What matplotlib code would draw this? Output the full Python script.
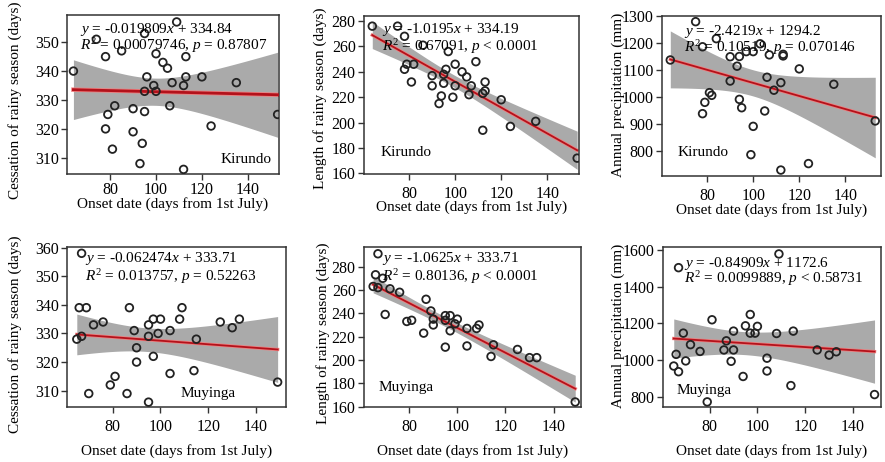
import numpy as np
import matplotlib
matplotlib.use('Agg')
import matplotlib.pyplot as plt

plt.rcParams['font.family'] = ['Liberation Serif', 'DejaVu Serif']
plt.rcParams['mathtext.fontset'] = 'custom'
plt.rcParams['mathtext.rm'] = 'Liberation Serif'
plt.rcParams['mathtext.it'] = 'Liberation Serif:italic'

# Kirundo - onset vs cessation
kir_onset_c = [64, 74, 78, 85, 95, 109, 100, 113, 103, 105, 96, 113, 120, 107, 99, 112,
               95, 100, 82, 90, 95, 106, 124, 90, 81, 94, 93, 112, 79, 78, 135, 153]
kir_cess = [340, 351, 345, 347, 353, 357, 346, 345, 343, 341, 338, 338, 338, 336, 335, 335,
            333, 333, 328, 327, 326, 328, 321, 319, 313, 315, 308, 306, 325, 320, 336, 325]

# Kirundo - onset vs length
kir_onset_l = [64, 75, 78, 78, 79, 82, 81, 86, 97, 90, 90, 96, 95, 95, 94, 93,
               100, 100, 99, 103, 105, 107, 106, 109, 113, 113, 112, 112, 120, 124, 135, 153]
kir_len = [276, 276, 268, 242, 246, 246, 232, 261, 256, 237, 229, 242, 238, 231, 221, 215,
           246, 229, 220, 240, 236, 229, 222, 248, 232, 225, 223, 194, 218, 197, 201, 172]

# Kirundo - onset vs annual precipitation
kir_onset_p = [64, 75, 78, 84, 78, 79, 81, 82, 90, 90, 93, 94, 94, 95, 97, 100,
               100, 99, 103, 105, 106, 107, 109, 112, 112, 113, 113, 120, 124, 135, 153]
kir_prcp = [1137, 1279, 1186, 1216, 938, 980, 1016, 1006, 1149, 1059, 1114, 1150, 991, 960, 1168, 891,
            1168, 786, 1197, 948, 1073, 1156, 1025, 1053, 729, 1152, 1158, 1104, 753, 1047, 911]

# Muyinga - onset vs cessation / length
muy_onset = [67, 66, 69, 87, 72, 76, 65, 67, 89, 95, 97, 100, 95, 99, 104, 108,
             90, 90, 97, 104, 81, 79, 70, 86, 95, 109, 115, 125, 130, 133, 114, 149]
muy_cess = [358, 339, 339, 339, 333, 334, 328, 329, 331, 333, 335, 335, 329, 330, 331, 335,
            325, 320, 322, 316, 315, 312, 309, 309, 306, 339, 328, 334, 332, 335, 317, 313]
muy_len = [291, 273, 270, 252, 261, 258, 263, 262, 242, 238, 238, 235, 234, 231, 227, 227,
           235, 230, 225, 212, 234, 233, 239, 223, 211, 230, 213, 209, 202, 202, 203, 164]

# Muyinga - onset vs annual precipitation
muy_onset_p = [67, 81, 69, 97, 95, 97, 99, 100, 90, 72, 76, 66, 65, 67, 70, 86,
               90, 87, 89, 94, 79, 104, 104, 109, 108, 115, 114, 125, 130, 133, 149]
muy_prcp = [1505, 1220, 1147, 1249, 1187, 1147, 1147, 1184, 1158, 1084, 1047, 1031, 967, 936, 995, 1055,
            1055, 1105, 993, 910, 771, 1010, 940, 1580, 1145, 1158, 860, 1055, 1027, 1045, 811]

# fitted equations as printed on the chart
slopes = [-0.019809, -1.0195, -2.4219, -0.062474, -1.0625, -0.84909]
intercepts = [334.84, 334.19, 1294.2, 333.71, 333.71, 1172.6]
eq_text = ['$y$ = -0.019809$x$ + 334.84', '$y$ = -1.0195$x$ + 334.19', '$y$ = -2.4219$x$ + 1294.2',
           '$y$ = -0.062474$x$ + 333.71', '$y$ = -1.0625$x$ + 333.71', '$y$ = -0.84909$x$ + 1172.6']
r2_text = ['$R^2$ = 0.00079746, $p$ = 0.87807', '$R^2$ = 0.67091, $p$ < 0.0001',
           '$R^2$ = 0.10519, $p$ = 0.070146', '$R^2$ = 0.013757, $p$ = 0.52263',
           '$R^2$ = 0.80136, $p$ < 0.0001', '$R^2$ = 0.0099889, $p$ < 0.58731']

xs = [kir_onset_c, kir_onset_l, kir_onset_p, muy_onset, muy_onset, muy_onset_p]
ys = [kir_cess, kir_len, kir_prcp, muy_cess, muy_len, muy_prcp]
stations = ['Kirundo', 'Kirundo', 'Kirundo', 'Muyinga', 'Muyinga', 'Muyinga']
ylabels = ['Cessation of rainy season (days)', 'Length of rainy season (days)', 'Annual precipitation (mm)'] * 2

# axes boxes in pixels (left, top, right, bottom) on the 885x462 canvas
W, H = 885, 462
boxes = [(67, 15, 279, 174), (364, 16, 579, 174), (662, 16, 881, 176),
         (67, 247, 286, 407), (364, 247, 581, 407), (663, 247, 881, 407)]
xlims = [(61.2, 153.6), (60.4, 153.8), (60.4, 155.5), (60.9, 152.5), (61.2, 151.4), (60.5, 151.7)]
ylims = [(304.4, 359.4), (159.5, 284), (707, 1300), (304.3, 360.2), (159.7, 296.8), (743, 1618)]
yticks = [range(310, 351, 10), range(160, 281, 20), range(800, 1301, 100),
          range(310, 361, 10), range(160, 281, 20), range(800, 1601, 200)]
# label positions in axes fraction
ylab_xy = [(-0.245, 0.465), (-0.205, 0.48), (-0.20, 0.505), (-0.237, 0.452), (-0.19, 0.46), (-0.206, 0.506)]
xlab_y = [-0.19, -0.21, -0.21, -0.275, -0.275, -0.275]
xtick_pad = [1.5, 4, 4, 4, 4, 4]
# text anchors in axes fraction: equation, R2 line, station (x, y, ha)
eq_pos = [(0.063, 0.906, 0.805), (0.082, 0.916, 0.809), (0.099, 0.906, 0.80),
          (0.084, 0.927, 0.818), (0.082, 0.931, 0.8125), (0.098, 0.898, 0.804)]
st_pos = [(0.966, 0.09, 'right'), (0.078, 0.134, 'left'), (0.072, 0.148, 'left'),
          (0.768, 0.086, 'right'), (0.065, 0.125, 'left'), (0.06, 0.104, 'left')]

fig = plt.figure(figsize=(W / 100, H / 100), dpi=100)

for i in range(6):
    l, t, r, b = boxes[i]
    ax = fig.add_axes([l / W, 1 - b / H, (r - l) / W, (b - t) / H])
    x = np.array(xs[i], dtype=float)
    y = np.array(ys[i], dtype=float)

    # regression line and 95% confidence band
    xx = np.linspace(x.min(), x.max(), 200)
    yy = slopes[i] * xx + intercepts[i]
    n = len(x)
    resid = y - (slopes[i] * x + intercepts[i])
    s = np.sqrt(np.sum(resid ** 2) / (n - 2))
    se = s * np.sqrt(1 / n + (xx - x.mean()) ** 2 / np.sum((x - x.mean()) ** 2))
    ax.fill_between(xx, yy - 2.04 * se, yy + 2.04 * se, color='#aaaaaa', lw=0, zorder=1)
    ax.plot(xx, yy, color='#ee8080', lw=3.2 if i == 0 else 2.4, zorder=2)
    ax.plot(xx, yy, color='#b3121b', lw=2.0 if i == 0 else 1.3, zorder=3)

    ax.scatter(x, y, s=30, facecolors='none', edgecolors='#222222', linewidths=1.3, zorder=4)

    ax.set_xlim(*xlims[i])
    ax.set_ylim(*ylims[i])
    ax.set_xticks([80, 100, 120, 140])
    ax.set_yticks(list(yticks[i]))
    ax.tick_params(direction='out', length=4.5, width=1, labelsize=11.5, color='#333333', pad=1.5)
    ax.tick_params(axis='x', pad=xtick_pad[i])
    for sp in ax.spines.values():
        sp.set_color('#333333')
        sp.set_linewidth(1.1)

    ax.set_xlabel('Onset date (days from 1st July)', fontsize=11)
    ax.xaxis.set_label_coords(0.5, xlab_y[i])
    ax.xaxis.label.set_va('center')
    ax.set_ylabel(ylabels[i], fontsize=11)
    ax.yaxis.set_label_coords(*ylab_xy[i])
    ax.yaxis.label.set_va('center')

    ex, ey1, ey2 = eq_pos[i]
    ax.text(ex, ey1, eq_text[i], transform=ax.transAxes, fontsize=11, va='center', zorder=5)
    ax.text(ex, ey2, r2_text[i], transform=ax.transAxes, fontsize=11, va='center', zorder=5)
    sx, sy, ha = st_pos[i]
    ax.text(sx, sy, stations[i], transform=ax.transAxes, fontsize=11, va='center', ha=ha, zorder=5)

fig.savefig('out.png', dpi=100)
